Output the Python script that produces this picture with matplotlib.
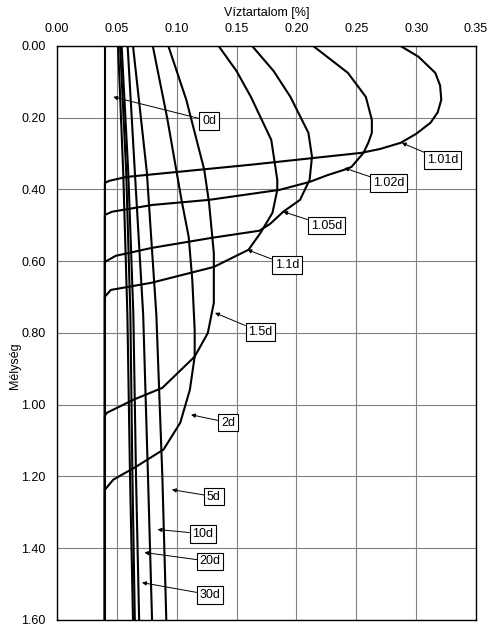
import matplotlib
matplotlib.use("Agg")
import matplotlib.pyplot as plt
from matplotlib.ticker import FormatStrFormatter, MultipleLocator

plt.rcParams['font.family'] = ['Liberation Sans', 'DejaVu Sans']

# water content profiles (depth, water content)
depth_0d = [0.0, 1.6]
wc_0d = [0.040, 0.040]

depth_101 = [0.0, 0.030, 0.075, 0.110, 0.150, 0.185, 0.214, 0.245, 0.270, 0.287, 0.298,
             0.331, 0.365, 0.376, 0.382, 1.6]
wc_101 = [0.287, 0.302, 0.316, 0.320, 0.321, 0.318, 0.312, 0.300, 0.287, 0.270, 0.254,
          0.162, 0.058, 0.0435, 0.040, 0.040]

depth_102 = [0.0, 0.075, 0.142, 0.206, 0.242, 0.270, 0.298, 0.337, 0.345, 0.360, 0.379,
             0.401, 0.429, 0.443, 0.462, 0.471, 1.6]
wc_102 = [0.214, 0.243, 0.258, 0.263, 0.263, 0.260, 0.256, 0.246, 0.240, 0.226, 0.211,
          0.186, 0.127, 0.080, 0.046, 0.040, 0.040]

depth_105 = [0.0, 0.070, 0.142, 0.242, 0.309, 0.373, 0.429, 0.462, 0.496, 0.515, 0.535,
             0.563, 0.585, 0.602, 1.6]
wc_105 = [0.163, 0.181, 0.195, 0.210, 0.213, 0.211, 0.203, 0.189, 0.178, 0.169, 0.129,
          0.079, 0.049, 0.040, 0.040]

depth_11 = [0.0, 0.070, 0.142, 0.262, 0.373, 0.401, 0.465, 0.521, 0.568, 0.616, 0.660,
            0.680, 0.699, 1.6]
wc_11 = [0.135, 0.150, 0.162, 0.179, 0.184, 0.184, 0.180, 0.170, 0.160, 0.131, 0.079,
         0.045, 0.040, 0.040]

depth_15 = [0.0, 0.150, 0.345, 0.437, 0.577, 0.716, 0.800, 0.866, 0.953, 0.986, 1.022,
            1.030, 1.6]
wc_15 = [0.093, 0.108, 0.123, 0.127, 0.131, 0.131, 0.126, 0.115, 0.088, 0.064, 0.042,
         0.040, 0.040]

depth_2 = [0.0, 0.200, 0.429, 0.532, 0.652, 0.791, 0.866, 0.958, 1.050, 1.125, 1.173,
           1.209, 1.237, 1.6]
wc_2 = [0.080, 0.092, 0.104, 0.110, 0.113, 0.115, 0.115, 0.111, 0.103, 0.089, 0.066,
        0.047, 0.040, 0.040]

depth_long = [0.0, 0.35, 0.75, 1.2, 1.6]
wc_5 = [0.0635, 0.075, 0.083, 0.088, 0.0913]
wc_10 = [0.059, 0.065, 0.072, 0.076, 0.0794]
wc_20 = [0.054, 0.0595, 0.0638, 0.066, 0.0686]
wc_30 = [0.0527, 0.0578, 0.0613, 0.063, 0.065]
wc_extra = [0.051, 0.0553, 0.0588, 0.061, 0.0635]

curves = [
    (depth_0d, wc_0d), (depth_101, wc_101), (depth_102, wc_102), (depth_105, wc_105),
    (depth_11, wc_11), (depth_15, wc_15), (depth_2, wc_2),
    (depth_long, wc_5), (depth_long, wc_10), (depth_long, wc_20), (depth_long, wc_30),
    (depth_long, wc_extra),
]

# label text, box position (x, depth), arrow tip (x, depth)
labels = ['0d', '1.01d', '1.02d', '1.05d', '1.1d', '1.5d', '2d', '5d', '10d', '20d', '30d']
label_pos = [(0.127, 0.209), (0.322, 0.318), (0.277, 0.382), (0.225, 0.501), (0.192, 0.610),
             (0.170, 0.797), (0.143, 1.05), (0.131, 1.256), (0.122, 1.36), (0.128, 1.437),
             (0.128, 1.53)]
arrow_tip = [(0.047, 0.142), (0.288, 0.270), (0.240, 0.340), (0.189, 0.462), (0.159, 0.568),
             (0.132, 0.744), (0.112, 1.028), (0.096, 1.237), (0.084, 1.348), (0.073, 1.412),
             (0.071, 1.496)]

fig = plt.figure(figsize=(5.0, 6.3), dpi=100)
ax = fig.add_axes([0.114, 0.016, 0.838, 0.911])

for d, w in curves:
    ax.plot(w, d, color='black', lw=1.5, solid_joinstyle='round')

for txt, (lx, ly), (tx, ty) in zip(labels, label_pos, arrow_tip):
    ax.annotate(txt, xy=(tx, ty), xytext=(lx, ly), ha='center', va='center', fontsize=9,
                bbox=dict(boxstyle='square,pad=0.22', fc='white', ec='black', lw=0.8),
                arrowprops=dict(arrowstyle='-|>', color='black', lw=0.7,
                                mutation_scale=6, shrinkA=0, shrinkB=0))

ax.set_xlim(0, 0.35)
ax.set_ylim(1.6, 0)
ax.xaxis.set_major_locator(MultipleLocator(0.05))
ax.yaxis.set_major_locator(MultipleLocator(0.2))
ax.xaxis.set_major_formatter(FormatStrFormatter('%.2f'))
ax.yaxis.set_major_formatter(FormatStrFormatter('%.2f'))
ax.xaxis.tick_top()
ax.xaxis.set_label_position('top')
ax.tick_params(length=0, labelsize=9, pad=8)
ax.grid(True, color='#808080', lw=0.8)
ax.set_axisbelow(True)
for s in ax.spines.values():
    s.set_linewidth(1.0)

ax.set_xlabel('Víztartalom [%]', fontsize=9, labelpad=5)
fig.text(0.03, 0.42, 'Mélység', rotation=90, ha='center', va='center', fontsize=9)

fig.savefig('out.png', dpi=100)
